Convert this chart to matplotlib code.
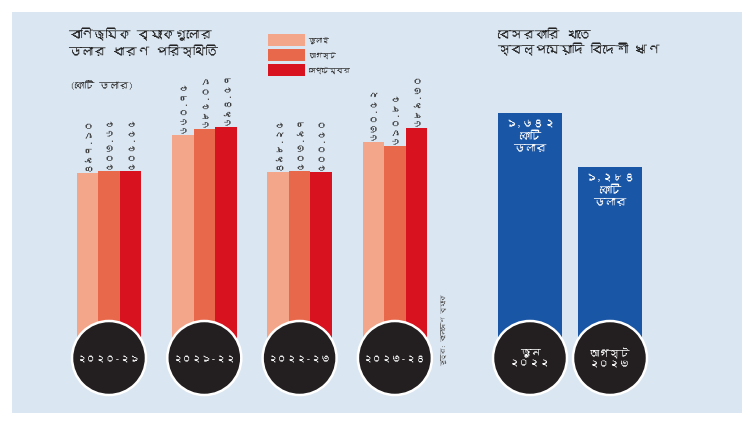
import matplotlib
matplotlib.use('Agg')
import matplotlib.pyplot as plt
from matplotlib.patches import Rectangle, Circle
from matplotlib import font_manager, ft2font

# ---- font: prefer any installed family with Bengali glyphs ----
beng = None
for f in font_manager.fontManager.ttflist:
    try:
        if 0x0995 in ft2font.FT2Font(f.fname).get_charmap():
            beng = f.name
            break
    except Exception:
        pass
FAM = ([beng] if beng else []) + ['Noto Sans', 'DejaVu Sans']
plt.rcParams['font.family'] = FAM

# ---- data ----
years = ['২০২০-২১', '২০২১-২২', '২০২২-২৩', '২০২৩-২৪']
series_names = ['জুলাই', 'আগস্ট', 'সেপ্টেম্বর']
july = [497.10, 660.75, 498.25, 630.52]
august = [503.65, 685.01, 503.97, 610.85]
september = [505.55, 694.57, 500.50, 689.30]
series = [july, august, september]
series_colors = ['#f4a68a', '#e8684b', '#d8121e']

debt_periods = ['জুন\n২০২২', 'আগস্ট\n২০২৩']
debt_values = [1642, 1284]

BN = str.maketrans('0123456789', '০১২৩৪৫৬৭৮৯')
def bn(s):
    return s.translate(BN)

W, H = 754, 422
fig = plt.figure(figsize=(W / 100, H / 100), dpi=100)
fig.patch.set_facecolor('white')

def px_axes(x0, x1, y0, y1, z):
    ax = fig.add_axes([x0 / W, 1 - y1 / H, (x1 - x0) / W, (y1 - y0) / H], zorder=z)
    ax.set_axis_off()
    ax.patch.set_alpha(0)
    return ax

# background panel
bg = px_axes(0, W, 0, H, 0)
bg.set_xlim(0, W); bg.set_ylim(H, 0)
bg.add_patch(Rectangle((12, 12), 730, 401, fc='#dae6f2', ec='none'))

# ---- left grouped bars ----
axL = px_axes(60, 440, 80, 345, 2)
spacing, c0 = 95.3, 109
axL.set_xlim((60 - c0) / spacing, (440 - c0) / spacing)
ybot, ytop = -249, 898
axL.set_ylim(ybot, ytop)
bw = 21.5 / spacing
for k, (vals, col) in enumerate(zip(series, series_colors)):
    for i, v in enumerate(vals):
        x = i + (k - 1) * bw
        axL.bar(x, v - ybot, bottom=ybot, width=bw, color=col, edgecolor='none')
        axL.text(x, v + 9, bn(f'{v:.2f}'), rotation=90, ha='center', va='bottom',
                 fontsize=7, color='#3a3a3a')

# ---- right bars ----
axR = px_axes(480, 660, 80, 361, 2)
axR.set_xlim((480 - 530) / 80, (660 - 530) / 80)
axR.set_ylim(0, 1863)
for i, v in enumerate(debt_values):
    axR.bar(i, v, width=0.8, color='#1a56a6', edgecolor='none')
    axR.text(i, v - 40, bn(f'{v:,}') + '\nকোটি\nডলার', ha='center', va='top',
             fontsize=8, color='white', linespacing=1.3)

# ---- overlay: circles and texts ----
ov = px_axes(0, W, 0, H, 5)
ov.set_xlim(0, W); ov.set_ylim(H, 0)
for i, yr in enumerate(years):
    cx = c0 + i * spacing
    ov.add_patch(Circle((cx, 358), 37, fc='#231f20', ec='white', lw=1.8))
    ov.text(cx, 359, yr, ha='center', va='center', color='white',
            fontsize=7, fontweight='bold')
for i, p in enumerate(debt_periods):
    cx = 530 + i * 80
    ov.add_patch(Circle((cx, 358), 37, fc='#231f20', ec='white', lw=1.8))
    ov.text(cx, 358, p, ha='center', va='center', color='white',
            fontsize=7.5, fontweight='bold', linespacing=1.3)

ov.text(68, 28, 'বাণিজ্যিক ব্যাংকগুলোর\nডলার ধারণ পরিস্থিতি', ha='left', va='top',
        fontsize=9, fontweight='bold', color='#222222', linespacing=1.3)
ov.text(70, 85, '(কোটি ডলার)', ha='left', va='center', fontsize=7, color='#333333')

for k, (name, col) in enumerate(zip(series_names, series_colors)):
    y = 34 + k * 15
    ov.add_patch(Rectangle((268, y), 37, 12, fc=col, ec='none'))
    ov.text(308, y + 6, name, ha='left', va='center', fontsize=5, color='#333333')

ov.text(497, 28, 'বেসরকারি খাতে\nস্বল্পমেয়াদি বিদেশী ঋণ', ha='left', va='top',
        fontsize=9, fontweight='bold', color='#222222', linespacing=1.3)

ov.text(444, 330, 'সূত্র: বাংলাদেশ ব্যাংক', rotation=90, ha='center', va='center',
        fontsize=4.5, color='#555555')

fig.savefig('out.png', dpi=100, facecolor='white')
